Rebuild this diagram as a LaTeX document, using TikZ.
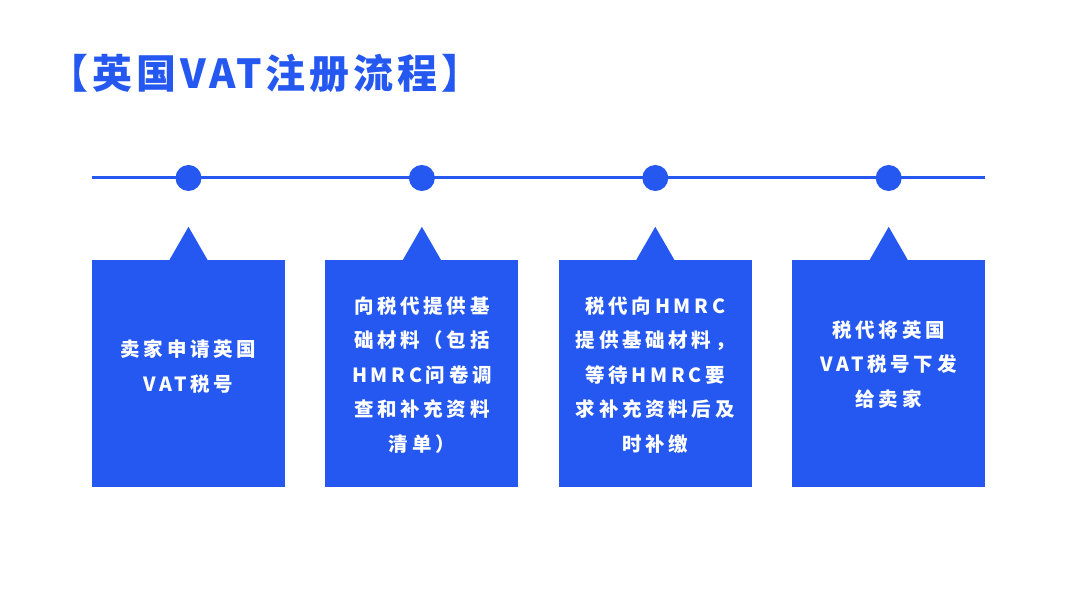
\documentclass[tikz,border=0pt]{standalone}
\usepackage{fontspec}
\newfontfamily\cjktitle[LetterSpace=10]{Noto Sans CJK SC}
\newfontfamily\cjkbox[LetterSpace=19]{Noto Sans CJK SC}
\usetikzlibrary{calc, positioning}
\definecolor{vatblue}{HTML}{2458F0}
\tikzstyle{card} = [rectangle, fill=vatblue, minimum width=193pt, minimum height=227pt, inner sep=0pt]
\tikzstyle{dot} = [circle, fill=vatblue, minimum size=26pt, inner sep=0pt]
\tikzstyle{words} = [text=white, align=center, inner sep=0pt, font=\cjkbox\bfseries\fontsize{19.5}{34.5}\selectfont]
\tikzstyle{timeline} = [vatblue, line width=3pt]

\begin{document}
\begin{tikzpicture}[x=1pt, y=1pt]
		\useasboundingbox (0,0) rectangle (1080,608);
		\node (title) [anchor=west, inner sep=0pt, text=vatblue, font=\cjktitle\bfseries\fontsize{40}{48}\selectfont] at (48,535) {【英国VAT注册流程】};
		\coordinate (lineL) at (92,430);
		\coordinate (lineR) at (985,430);
		\draw [timeline] (lineL) -- (lineR);
		% four steps
		\node (card1) [card] at (188.5,234.5) {};
		\node (card2) [card, right = 40pt of card1] {};
		\node (card3) [card, right = 40pt of card2] {};
		\node (card4) [card, right = 40pt of card3] {};
		\node (dot1) [dot] at (card1.center |- lineL) {};
		\node (dot2) [dot] at (card2.center |- lineL) {};
		\node (dot3) [dot] at (card3.center |- lineL) {};
		\node (dot4) [dot] at (card4.center |- lineL) {};
		\fill [vatblue] ($(card1.north)+(-19,0)$) -- ($(card1.north)+(0,33)$) -- ($(card1.north)+(19,0)$) -- cycle;
		\fill [vatblue] ($(card2.north)+(-19,0)$) -- ($(card2.north)+(0,33)$) -- ($(card2.north)+(19,0)$) -- cycle;
		\fill [vatblue] ($(card3.north)+(-19,0)$) -- ($(card3.north)+(0,33)$) -- ($(card3.north)+(19,0)$) -- cycle;
		\fill [vatblue] ($(card4.north)+(-19,0)$) -- ($(card4.north)+(0,33)$) -- ($(card4.north)+(19,0)$) -- cycle;
		\node (text1) [words] at ($(card1.center)+(0,7)$) {卖家申请英国\\VAT税号};
		\node (text2) [words] at ($(card2.center)+(0,-1.5)$) {向税代提供基\\础材料（包括\\HMRC问卷调\\查和补充资料\\清单）};
		\node (text3) [words] at ($(card3.center)+(0,-1.5)$) {税代向HMRC\\提供基础材料，\\等待HMRC要\\求补充资料后及\\时补缴};
		\node (text4) [words] at ($(card4.center)+(0,9)$) {税代将英国\\VAT税号下发\\给卖家};
		\end{tikzpicture}
\end{document}
